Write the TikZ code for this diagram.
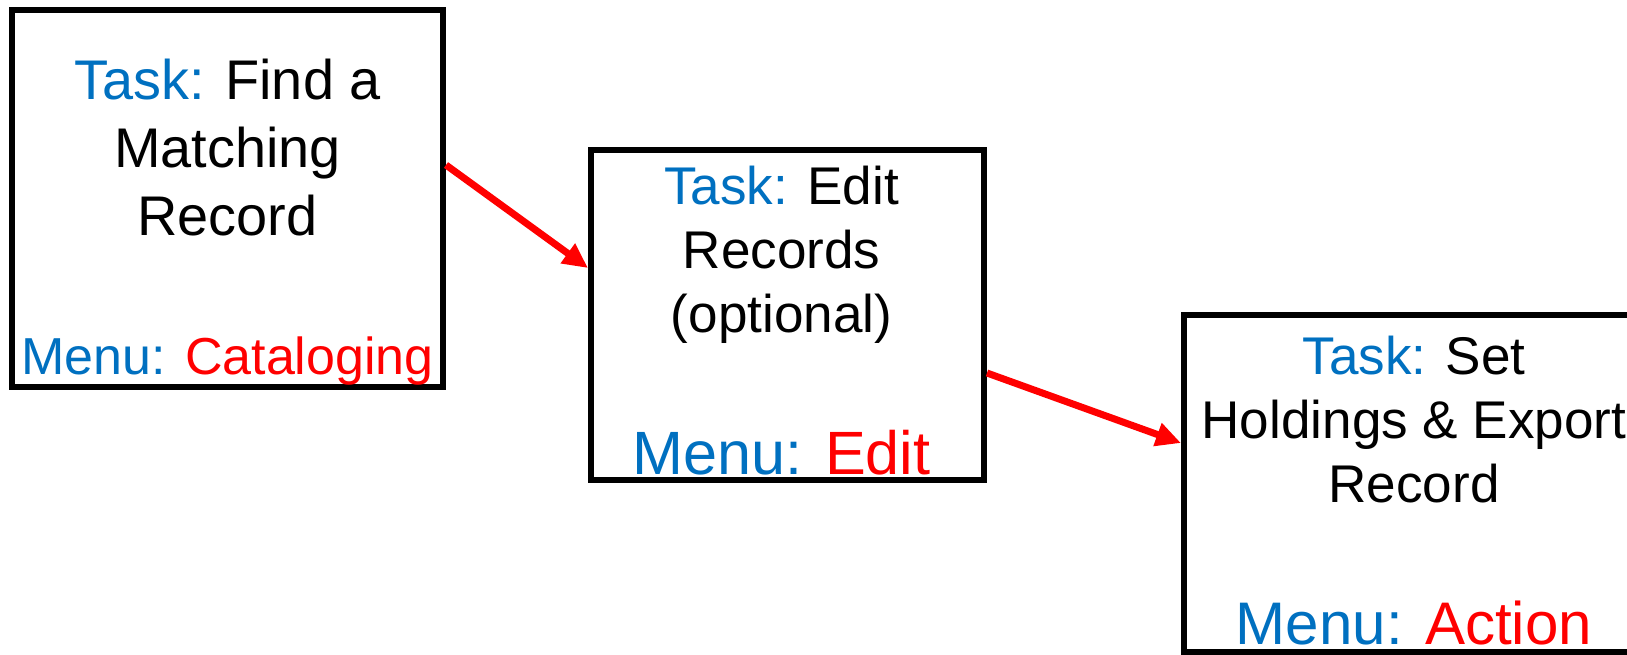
\documentclass[tikz,border=0pt]{standalone}
\usepackage{fontspec}
\setmainfont{Liberation Sans}
\usetikzlibrary{positioning,arrows.meta}
\definecolor{taskblue}{HTML}{0070C0}
\definecolor{menured}{HTML}{FF0000}

\begin{document}
\begin{tikzpicture}[
    stepbox/.style={draw=black, line width=0.06cm, inner sep=0pt},
    tasktext/.style={align=center, inner sep=0pt, anchor=base},
    menutext/.style={inner sep=0pt, anchor=base},
    flow/.style={draw=menured, line width=0.07cm,
                 -{Triangle[length=0.25cm,width=0.23cm]}}
  ]
  \useasboundingbox (0,0) rectangle (16.27,-6.54);

  % the three steps, left to right
  \node[stepbox, minimum width=4.31cm, minimum height=3.77cm] (find) at (2.275,-1.985) {};
  \node[stepbox, minimum width=3.93cm, minimum height=3.30cm] (edit) at (7.875,-3.15) {};
  \node[stepbox, minimum width=4.60cm, minimum height=3.37cm] (export) at (14.14,-4.835) {};

  % what to do in each step (base = last line)
  \node[tasktext, font=\fontsize{15.9}{19.35}\selectfont] (findtask)
    at ([yshift=-2.28cm]find.north)
    {\textcolor{taskblue}{Task:} Find a\\Matching\\Record};
  \node[tasktext, font=\fontsize{15.1}{18.1}\selectfont] (edittask)
    at ([xshift=-0.06cm,yshift=-1.85cm]edit.north)
    {\textcolor{taskblue}{Task:} Edit\\Records\\(optional)};
  \node[tasktext, font=\fontsize{15.1}{18.1}\selectfont] (exporttask)
    at ([yshift=-1.90cm]export.north)
    {\textcolor{taskblue}{Task:} Set\\Holdings \& Export\\Record};

  % which menu to use
  \node[menutext, font=\fontsize{14.8}{17.8}\selectfont] (findmenu)
    at ([yshift=0.16cm]find.south)
    {\textcolor{taskblue}{Menu:} \textcolor{menured}{Cataloging}};
  \node[menutext, font=\fontsize{17.4}{20.8}\selectfont] (editmenu)
    at ([xshift=-0.06cm,yshift=0.09cm]edit.south)
    {\textcolor{taskblue}{Menu:} \textcolor{menured}{Edit}};
  \node[menutext, font=\fontsize{17.1}{20.5}\selectfont] (exportmenu)
    at ([yshift=0.11cm]export.south)
    {\textcolor{taskblue}{Menu:} \textcolor{menured}{Action}};

  % connect the steps
  \draw[flow] ([yshift=0.335cm]find.east) -- ([yshift=0.47cm]edit.west);
  \draw[flow] ([yshift=-0.58cm]edit.east) -- ([yshift=0.405cm]export.west);

\end{tikzpicture}
\end{document}
